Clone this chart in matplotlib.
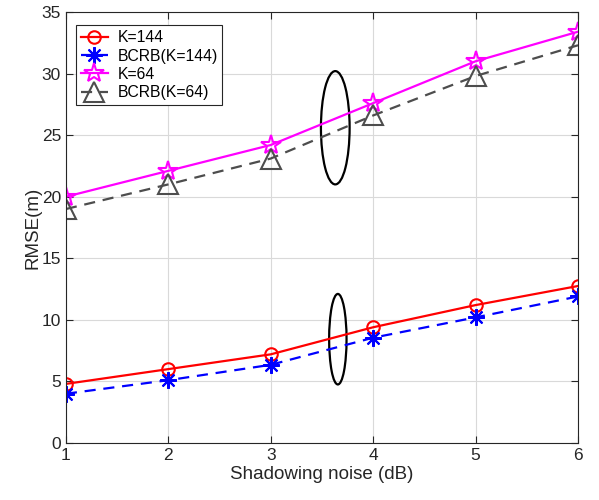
import numpy as np
import matplotlib.pyplot as plt
from matplotlib.patches import Ellipse

plt.rcParams['font.family'] = ['Liberation Sans', 'DejaVu Sans']

noise_db = [1, 2, 3, 4, 5, 6]
rmse_k144 = [4.8, 6.0, 7.2, 9.4, 11.2, 12.75]
bcrb_k144 = [4.0, 5.1, 6.35, 8.55, 10.2, 11.9]
rmse_k64 = [20.0, 22.1, 24.2, 27.6, 31.0, 33.4]
bcrb_k64 = [19.0, 21.0, 23.1, 26.6, 29.8, 32.3]

fig = plt.figure(figsize=(5.99, 5.0), dpi=100)
ax = fig.add_axes([0.110, 0.114, 0.855, 0.862])

gray = (0.3, 0.3, 0.3)
ax.plot(noise_db, rmse_k144, color='red', lw=1.6, marker='o', ms=9,
        mfc='none', mew=1.5, label='K=144')
ax.plot(noise_db, bcrb_k144, color='blue', lw=1.6, ls=(0, (5, 3.5)),
        marker=(8, 2, 0), ms=12, mew=1.5, label='BCRB(K=144)')
ax.plot(noise_db, rmse_k64, color='magenta', lw=1.6, marker='*', ms=15,
        mfc='none', mew=1.5, label='K=64')
ax.plot(noise_db, bcrb_k64, color=gray, lw=1.6, ls=(0, (5, 3.5)),
        marker='^', ms=14, mfc='none', mew=1.5, label='BCRB(K=64)')

# ellipses grouping curves
ax.add_patch(Ellipse((3.655, 8.43), 0.17, 7.35, fill=False, ec='black', lw=1.6))
ax.add_patch(Ellipse((3.63, 25.6), 0.28, 9.2, fill=False, ec='black', lw=1.6))

ax.set_xlim(1, 6)
ax.set_ylim(0, 35)
ax.set_xticks(noise_db)
ax.set_yticks(np.arange(0, 36, 5))
ax.grid(True, color=(0.85, 0.85, 0.85), lw=0.8)
ax.set_axisbelow(True)
ax.tick_params(direction='in', top=True, right=True, labelsize=12.5,
               colors=(0.15, 0.15, 0.15), length=5)
for s in ax.spines.values():
    s.set_color((0.15, 0.15, 0.15))
ax.set_xlabel('Shadowing noise (dB)', fontsize=13.5, color=(0.15, 0.15, 0.15), labelpad=2)
ax.set_ylabel('RMSE(m)', fontsize=13.5, color=(0.15, 0.15, 0.15), labelpad=0)

leg = ax.legend(loc='upper left', bbox_to_anchor=(0.0195, 0.969), fontsize=11.3,
                fancybox=False, framealpha=1, edgecolor=(0.15, 0.15, 0.15),
                borderpad=0.3, labelspacing=0.22, handlelength=1.75,
                handletextpad=0.6, borderaxespad=0)
leg.get_frame().set_linewidth(0.8)

fig.savefig('out.png', dpi=100)
